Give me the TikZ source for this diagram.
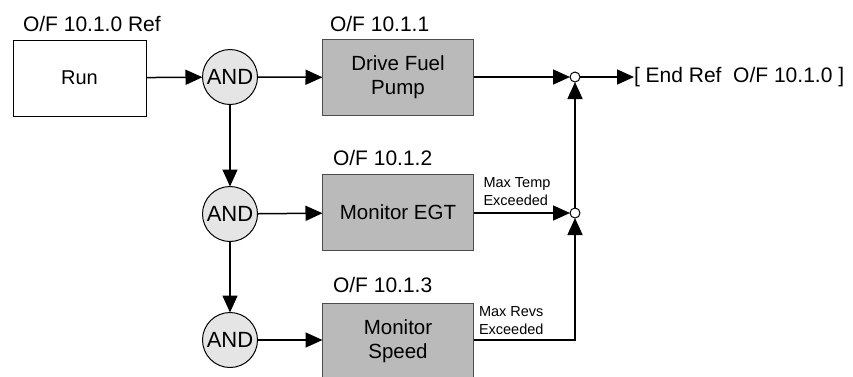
\documentclass[tikz,border=0pt]{standalone}
\usepackage{fontspec}
\setmainfont{Liberation Sans}
\usetikzlibrary{arrows.meta,calc}
\begin{document}
\begin{tikzpicture}[x=1pt,y=-1pt,
  every node/.style={inner sep=0pt,outer sep=0pt},
  line/.style={line width=1.5pt,draw=black},
  arr/.style={line, -{Triangle[length=17pt,width=15pt]}},
  runbox/.style={draw=black,line width=1pt,fill=white,minimum width=133pt,minimum height=76pt,font=\fontsize{20}{23}\selectfont},
  fbox/.style={draw=black!70,line width=0.8pt,fill=black!27,minimum width=151pt,minimum height=76pt,align=center,font=\fontsize{20.5}{24}\selectfont},
  andc/.style={circle,draw=black,line width=1pt,fill=black!10,minimum size=55pt,font=\fontsize{22}{24}\selectfont},
  junc/.style={circle,draw=black,line width=1pt,fill=white,minimum size=10pt},
  lbl/.style={anchor=west,font=\fontsize{21}{24}\selectfont},
  small/.style={align=left,font=\fontsize{14.5}{18}\selectfont}
]
\useasboundingbox (0,0) rectangle (853,376);
\clip (0,0) rectangle (853,376);

\node[runbox] (run) at (79.5,78) {Run};
\node[lbl] (lrun) at (23,24) {O/F 10.1.0 Ref};

\node[andc] (and1) at (230,77) {AND};
\node[andc] (and2) at (230,214) {AND};
\node[andc] (and3) at (230,340) {AND};

\node[fbox] (dfp) at (398,77.5) {Drive Fuel\\Pump};
\node[lbl] (l1) at (330,24) {O/F 10.1.1};
\node[fbox] (egt) at (398,212.5) {Monitor EGT};
\node[lbl] (l2) at (333,158) {O/F 10.1.2};
\node[fbox] (spd) at (398,341) {Monitor\\Speed};
\node[lbl] (l3) at (333,285) {O/F 10.1.3};

\node[junc] (j1) at (575,77) {};
\node[junc] (j2) at (575,213) {};
\coordinate (c3) at (575,340);

\node[lbl] (end) at (634,77) {[ End Ref\ \ O/F 10.1.0 ]};

\node[small,anchor=south] (mt) at (517,206) {Max Temp\\Exceeded};
\node[small,anchor=west] (mr) at (479,321) {Max Revs\\Exceeded};

\draw[arr] (run) -- (and1);
\draw[arr] (and1) -- (dfp);
\draw[arr] (and2) -- (egt);
\draw[arr] (and3) -- (spd.west |- and3);
\draw[arr] (and1) -- (and2);
\draw[arr] (and2) -- (and3);
\draw[arr] (dfp.east |- j1) -- (j1);
\draw[arr] (egt.east |- j2) -- (j2);
\draw[arr] (j1) -- (end);
\draw[arr] (j2) -- (j1);
\draw[arr] (spd.east |- c3) -- (c3) -- (j2);
\end{tikzpicture}
\end{document}
